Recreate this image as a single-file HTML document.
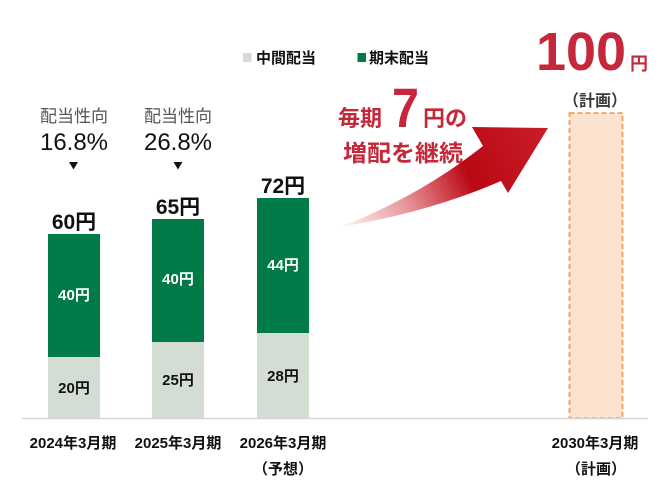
<!DOCTYPE html>
<html><head><meta charset="utf-8"><style>
html,body{margin:0;padding:0;background:#fff;}
svg{display:block;}
text{font-family:"Liberation Sans","Noto Sans CJK JP",sans-serif;}
</style></head><body>
<svg width="672" height="491" viewBox="0 0 672 491" xmlns="http://www.w3.org/2000/svg">
<defs>
<linearGradient id="ag" gradientUnits="userSpaceOnUse" x1="340" y1="225" x2="548" y2="130">
<stop offset="0" stop-color="#c8141e" stop-opacity="0.03"/>
<stop offset="0.3" stop-color="#c8141e" stop-opacity="0.45"/>
<stop offset="0.6" stop-color="#ba0812" stop-opacity="1"/>
<stop offset="1" stop-color="#c81e2a" stop-opacity="1"/>
</linearGradient>
</defs>

<!-- legend -->
<rect x="243" y="53" width="8.5" height="9" fill="#d3ddd3"/>
<text x="256" y="63" font-size="15" font-weight="bold" fill="#111">中間配当</text>
<rect x="357.5" y="53" width="8.5" height="9" fill="#007a47"/>
<text x="369" y="63" font-size="15" font-weight="bold" fill="#111">期末配当</text>

<!-- payout ratio -->
<text x="74" y="122" font-size="17" fill="#555" text-anchor="middle">配当性向</text>
<text x="74" y="150" font-size="24" fill="#111" text-anchor="middle">16.8%</text>
<polygon points="69,162 78,162 73.5,169.5" fill="#111"/>
<text x="178" y="122" font-size="17" fill="#555" text-anchor="middle">配当性向</text>
<text x="178" y="150" font-size="24" fill="#111" text-anchor="middle">26.8%</text>
<polygon points="173.5,162 182.5,162 178,169.5" fill="#111"/>

<!-- bars -->
<rect x="48" y="234" width="52" height="123" fill="#007a47"/>
<rect x="48" y="357" width="52" height="61" fill="#d3ddd3"/>
<rect x="152" y="219" width="52" height="123" fill="#007a47"/>
<rect x="152" y="342" width="52" height="76" fill="#d3ddd3"/>
<rect x="257" y="198" width="52" height="135" fill="#007a47"/>
<rect x="257" y="333" width="52" height="85" fill="#d3ddd3"/>

<!-- totals -->
<text x="74" y="229" font-size="21" font-weight="bold" fill="#111" text-anchor="middle">60円</text>
<text x="178" y="214" font-size="21" font-weight="bold" fill="#111" text-anchor="middle">65円</text>
<text x="283" y="193" font-size="21" font-weight="bold" fill="#111" text-anchor="middle">72円</text>

<!-- in-bar labels -->
<text x="74" y="300" font-size="15" font-weight="bold" fill="#fff" text-anchor="middle">40円</text>
<text x="74" y="393" font-size="15" font-weight="bold" fill="#111" text-anchor="middle">20円</text>
<text x="178" y="284" font-size="15" font-weight="bold" fill="#fff" text-anchor="middle">40円</text>
<text x="178" y="385" font-size="15" font-weight="bold" fill="#111" text-anchor="middle">25円</text>
<text x="283" y="270" font-size="15" font-weight="bold" fill="#fff" text-anchor="middle">44円</text>
<text x="283" y="381" font-size="15" font-weight="bold" fill="#111" text-anchor="middle">28円</text>

<!-- plan bar -->
<rect x="569.5" y="113" width="53" height="305" fill="#fce3d0" stroke="#efa060" stroke-width="1.8" stroke-dasharray="5,3"/>

<!-- axis -->
<line x1="22" y1="418.5" x2="648" y2="418.5" stroke="#d6d6d6" stroke-width="1.5"/>

<!-- x labels -->
<text x="73" y="448" font-size="15" font-weight="bold" fill="#111" text-anchor="middle">2024年3月期</text>
<text x="178" y="448" font-size="15" font-weight="bold" fill="#111" text-anchor="middle">2025年3月期</text>
<text x="283" y="448" font-size="15" font-weight="bold" fill="#111" text-anchor="middle">2026年3月期</text>
<text x="283" y="474" font-size="15" font-weight="bold" fill="#111" text-anchor="middle">（予想）</text>
<text x="595" y="448" font-size="15" font-weight="bold" fill="#111" text-anchor="middle">2030年3月期</text>
<text x="596" y="474" font-size="15" font-weight="bold" fill="#111" text-anchor="middle">（計画）</text>

<!-- 100 yen -->
<text x="581" y="70" font-size="54" font-weight="bold" fill="#c4283a" text-anchor="middle">100</text>
<text x="630" y="70" font-size="18" font-weight="bold" fill="#c4283a">円</text>
<text x="595" y="106" font-size="16" font-weight="bold" fill="#3a3a3a" text-anchor="middle">（計画）</text>

<!-- arrow -->
<path d="M340,227 Q420,196 483,146 L472,127 L548,128 L508,193 L501,181 Q430,212 340,227 Z" fill="url(#ag)"/>

<!-- arrow text -->
<text x="338" y="126" font-size="22" font-weight="bold" fill="#c4283a">毎期</text>
<text x="392" y="127" font-size="56" font-weight="bold" fill="#c4283a" textLength="27" lengthAdjust="spacingAndGlyphs">7</text>
<text x="423" y="126" font-size="22" font-weight="bold" fill="#c4283a">円の</text>
<text x="343" y="161" font-size="23" font-weight="bold" fill="#c4283a" textLength="120" lengthAdjust="spacingAndGlyphs">増配を継続</text>
</svg>
</body></html>
